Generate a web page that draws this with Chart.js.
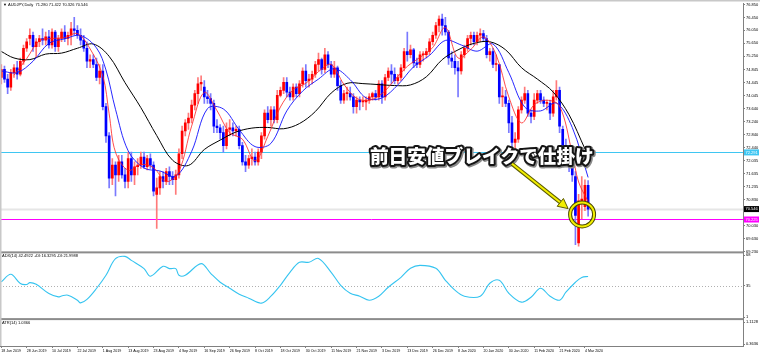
<!DOCTYPE html>
<html>
<head>
<meta charset="utf-8">
<script src="https://cdn.jsdelivr.net/npm/chart.js@4.4.1/dist/chart.umd.min.js"></script>
<style>
html, body { margin: 0; padding: 0; background: #fff; }
#wrap { position: relative; width: 760px; height: 355px; }
</style>
</head>
<body>
<div id="wrap"><canvas id="chart" width="760" height="355"></canvas></div>
<script>
// AUDJPY daily, 18 Jun 2019 .. 5 Mar 2020 (bar index 0..185)
const tickIndex = [0, 8, 16, 24, 32, 40, 48, 56, 64, 72, 80, 88, 96, 104, 112, 120, 128, 136, 144, 152, 160, 168, 176, 184];
const tickLabels = ['18 Jun 2019', '28 Jun 2019', '10 Jul 2019', '22 Jul 2019', '1 Aug 2019', '13 Aug 2019', '23 Aug 2019',
  '4 Sep 2019', '16 Sep 2019', '26 Sep 2019', '8 Oct 2019', '18 Oct 2019', '30 Oct 2019', '11 Nov 2019', '21 Nov 2019',
  '3 Dec 2019', '13 Dec 2019', '26 Dec 2019', '8 Jan 2020', '20 Jan 2020', '30 Jan 2020', '11 Feb 2020', '21 Feb 2020', '4 Mar 2020'];

const opens = [
  74.60,74.85,74.55,74.30,74.75,74.90,74.70,75.10,75.50,75.80,
  75.90,75.55,75.70,75.80,75.75,75.85,75.60,76.00,75.55,75.80,
  76.00,75.80,75.90,76.10,76.05,75.90,75.75,75.50,75.10,75.15,
  75.00,74.60,74.80,73.70,72.80,71.50,71.90,71.60,72.00,71.60,
  71.40,72.10,71.60,71.85,71.90,72.15,71.85,72.10,71.90,71.00,
  71.20,71.55,71.40,71.70,71.55,71.45,71.60,72.25,72.95,73.20,
  73.35,73.75,74.10,74.40,74.30,74.00,73.95,73.80,73.10,73.05,
  72.90,72.50,73.00,73.05,72.95,73.00,72.50,72.00,71.90,72.10,
  72.15,72.00,72.30,72.80,73.50,73.30,73.60,73.30,74.05,74.20,
  74.45,74.15,74.00,74.30,74.10,74.40,74.80,74.50,74.55,74.70,
  75.00,75.15,74.85,75.30,75.00,74.70,74.90,74.35,73.90,74.10,
  74.10,74.00,73.70,73.90,73.85,73.85,73.90,74.00,74.10,74.00,
  74.40,74.00,74.60,74.80,74.70,74.50,74.60,74.90,75.40,75.30,
  75.45,75.05,75.00,75.30,75.30,75.40,75.70,75.90,76.20,76.40,
  76.20,76.00,75.20,75.10,74.90,74.80,75.30,75.50,75.80,75.90,
  75.70,75.90,75.95,75.80,75.30,75.40,75.00,75.00,74.00,74.00,
  73.80,73.20,72.60,72.70,73.60,73.90,74.10,73.50,73.40,73.90,
  74.10,73.90,73.80,73.80,73.50,74.00,74.20,73.00,72.50,72.20,
  71.90,71.55,69.50,70.75,70.62,71.28];
const highs = [
  75.00,74.95,74.70,74.85,75.00,75.10,75.20,75.60,75.80,76.10,
  76.00,75.80,75.90,76.10,76.00,76.05,76.10,76.05,75.90,76.10,
  76.20,76.00,76.30,76.45,76.20,76.10,75.90,75.70,75.30,75.30,
  75.20,75.00,75.00,73.80,72.90,72.10,72.00,72.20,72.20,71.80,
  72.30,72.30,72.00,72.10,72.30,72.30,72.20,72.25,72.00,71.50,
  71.70,71.70,71.80,71.85,71.70,71.75,72.40,73.10,73.30,73.50,
  73.90,74.20,74.60,74.65,74.50,74.20,74.10,73.90,73.30,73.15,
  73.10,73.20,73.30,73.20,73.10,73.10,72.60,72.20,72.20,72.40,
  72.30,72.40,72.90,73.60,73.70,73.70,73.70,74.20,74.30,74.60,
  74.60,74.30,74.40,74.40,74.50,74.90,75.00,74.70,74.80,75.10,
  75.35,75.20,75.50,75.40,75.10,75.10,74.95,74.50,74.20,74.30,
  74.30,74.10,74.00,74.00,74.00,74.00,74.10,74.15,74.20,74.50,
  74.50,74.70,74.90,75.00,74.90,74.70,75.00,75.50,76.00,75.60,
  75.50,75.20,75.40,75.40,75.50,75.80,76.00,76.30,76.50,76.55,
  76.45,76.05,75.40,75.30,75.10,75.40,75.60,75.90,76.00,76.00,
  76.00,76.10,76.05,75.90,75.50,75.50,75.30,75.00,74.30,74.20,
  73.90,73.40,72.90,73.70,74.00,74.30,74.20,73.60,74.10,74.20,
  74.20,74.00,73.90,73.90,74.20,74.50,74.30,73.10,72.70,72.50,
  72.20,71.70,71.00,71.55,71.45,71.422];
const lows = [
  74.40,74.45,74.10,74.20,74.60,74.55,74.65,75.00,75.40,75.60,
  75.40,75.20,75.55,75.60,75.60,75.50,75.50,75.40,75.40,75.70,
  75.70,75.60,75.60,75.90,75.80,75.60,75.40,74.90,74.90,74.90,
  74.50,74.40,73.60,72.60,71.20,71.30,70.95,71.40,71.50,71.20,
  71.20,71.40,71.30,71.60,71.80,71.80,71.75,71.80,70.95,69.95,
  71.00,71.20,71.30,71.30,71.30,71.00,71.50,72.10,72.80,73.00,
  73.20,73.60,73.80,74.20,73.80,73.80,73.60,72.90,72.90,72.70,
  72.30,72.40,72.80,72.80,72.80,72.40,71.90,71.70,71.80,71.90,
  71.90,71.90,72.10,72.70,73.20,73.10,73.20,73.20,74.00,74.10,
  74.00,73.90,73.90,74.00,74.00,74.30,74.30,74.30,74.40,74.60,
  74.80,74.70,74.75,74.90,74.60,74.60,74.20,73.80,73.80,73.90,
  73.90,73.50,73.50,73.60,73.70,73.60,73.80,73.90,73.90,73.90,
  73.80,73.90,74.50,74.40,74.40,74.40,74.50,74.80,75.10,75.20,
  74.90,74.90,74.90,75.10,75.20,75.30,75.60,75.80,76.00,75.90,
  75.90,75.00,74.90,74.70,74.00,74.70,75.20,75.40,75.60,75.60,
  75.60,75.70,75.70,75.20,75.10,74.90,74.80,73.80,73.70,73.70,
  72.90,72.30,72.40,72.60,73.50,73.80,73.40,73.20,73.30,73.80,
  73.80,73.70,73.60,73.30,73.40,73.90,72.90,72.30,72.00,71.70,
  71.40,69.45,69.40,70.25,70.50,70.326];
const closes = [
  74.85,74.55,74.30,74.75,74.90,74.70,75.10,75.50,75.70,75.90,
  75.55,75.70,75.80,75.75,75.85,75.60,76.00,75.55,75.80,76.00,
  75.80,75.90,76.10,76.05,75.90,75.75,75.50,75.10,75.15,75.00,
  74.60,74.80,73.70,72.80,71.50,71.90,71.60,72.00,71.60,71.40,
  72.10,71.60,71.85,71.90,72.15,71.85,72.10,71.90,71.10,71.20,
  71.55,71.40,71.70,71.55,71.45,71.60,72.25,72.95,73.20,73.35,
  73.75,74.10,74.40,74.45,74.00,73.95,73.80,73.10,73.05,72.90,
  72.50,73.00,73.05,72.95,73.00,72.50,72.00,71.90,72.10,72.15,
  72.00,72.30,72.80,73.50,73.30,73.60,73.30,74.05,74.20,74.45,
  74.15,74.00,74.30,74.10,74.40,74.80,74.50,74.55,74.70,75.00,
  75.15,74.85,75.30,75.00,74.70,74.90,74.35,73.90,74.10,74.10,
  74.00,73.70,73.90,73.85,73.85,73.90,74.00,74.10,74.00,74.40,
  74.00,74.60,74.80,74.70,74.50,74.60,74.90,75.40,75.30,75.45,
  75.05,75.00,75.30,75.30,75.40,75.70,75.90,76.20,76.40,76.20,
  76.00,75.20,75.10,74.90,74.80,75.30,75.50,75.80,75.90,75.70,
  75.90,75.95,75.80,75.30,75.40,75.00,75.00,74.00,74.00,73.80,
  73.20,72.60,72.70,73.60,73.90,74.10,73.50,73.40,73.90,74.10,
  73.90,73.80,73.80,73.50,74.00,74.20,73.10,72.50,72.20,71.90,
  71.60,70.35,70.80,70.85,71.28,70.546];

// moving averages (bar index, price)
const maRedIdx = [4,8,12,16,20,24,28,32,34,36,40,44,48,52,56,60,64,68,72,76,80,84,88,92,96,100,104,108,112,116,120,124,128,132,136,140,144,148,152,156,160,164,168,172,176,180,182,185];
const maRed = [74.67,75.18,75.73,75.80,75.83,75.95,75.48,74.65,73.48,72.30,71.74,71.92,71.82,71.39,71.71,73.10,74.14,73.58,72.90,72.70,72.03,72.78,73.69,74.22,74.42,74.78,75.00,74.39,73.96,73.90,74.10,74.52,74.94,75.22,75.52,76.14,75.20,75.46,75.85,75.30,74.00,73.20,73.76,73.90,73.72,72.26,71.38,70.78];
const maBlueIdx = [0,5,10,15,20,25,30,33,36,40,45,50,55,60,65,70,75,80,85,90,95,100,105,110,115,120,125,130,135,140,145,150,155,160,165,170,175,180,185];
const maBlue = [74.80,74.75,75.10,75.65,75.79,75.89,75.51,74.83,73.62,72.34,71.81,71.72,71.56,72.32,73.64,73.63,72.99,72.47,72.57,73.57,74.18,74.55,74.87,74.53,73.97,73.97,74.37,74.93,75.28,75.74,75.60,75.41,75.63,74.75,73.69,73.57,73.81,73.06,71.52];
const maBlackIdx = [0,4,9,14,19,24,29,34,39,44,49,54,59,64,69,74,79,84,89,94,99,104,109,114,119,124,129,134,139,144,149,154,159,164,169,174,179,184];
const maBlack = [75.40,75.20,75.15,75.32,75.35,75.50,75.63,75.25,74.44,73.67,72.81,72.05,71.89,72.38,72.67,72.92,73.04,73.06,73.02,73.18,73.55,74.12,74.42,74.41,74.38,74.35,74.37,74.62,75.15,75.45,75.65,75.70,75.45,74.90,74.55,74.15,73.45,72.40];

// ADX(14) main line
const adxIdx = [0,3,6,8,9,11,15,18,19,21,24,25,27,30,33,36,39,41,45,47,51,53,55,56,58,63,66,69,72,75,78,82,85,88,91,94,97,100,104,107,110,113,116,119,122,126,129,132,137,140,143,146,151,154,157,160,164,167,170,173,176,178,181,183,185];
const adx = [39.1,47.4,37.4,36.3,38.4,36.6,26.6,23.0,24.0,24.8,19.4,16.5,20.2,32.0,46.3,64.2,66.7,62.4,53.5,45.2,56.0,53.5,53.5,46.3,46.3,58.9,48.4,38.8,32.3,25.9,21.6,16.2,23.7,35.5,49.5,60.3,60.3,64.5,49.5,35.5,26.9,23.7,19.4,23.7,33.4,44.1,53.8,57.0,53.8,40.9,30.2,23.7,23.7,37.7,40.9,26.9,17.3,22.6,32.3,23.7,19.4,28.0,38.8,44.0,45.0];

// axis labels
const priceTicks = [76.850, 76.450, 76.050, 75.650, 75.250, 74.845, 74.445, 74.045, 73.640, 73.240, 72.840, 72.440, 72.035, 71.635, 71.235, 70.830, 70.030, 69.630, 69.230];
const adxTicks = [68, 35, 1];
const adxLevel = 35;
const atrTicks = [1.1128, 0.3636];

// horizontal lines on the price window
const cyanLevel = 72.291;
const magentaLevel = 70.225;
const bidLevel = 70.546;

const titleText = 'AUDJPY,Daily  71.280 71.422 70.326 70.546';
const adxText = 'ADX(14) 42.4922 +DI:16.3295 -DI:21.9988';
const atrText = 'ATR(14) 1.0366';
const noteText = '前日安値ブレイクで仕掛け';

// build candle pieces
const bodyUp = [], bodyDn = [], wickUp = [], wickDn = [];
for (let i = 0; i < closes.length; i++) {
  const up = closes[i] >= opens[i];
  (up ? wickUp : wickDn).push({x: i, y: [lows[i], highs[i]]});
  (up ? bodyUp : bodyDn).push({x: i, y: [Math.min(opens[i], closes[i]), Math.max(opens[i], closes[i])]});
}
const pts = (idx, vals) => idx.map((x, k) => ({x: x, y: vals[k]}));

const FONT = 'Liberation Sans';

const mt4 = {
  id: 'mt4',
  beforeDatasetsDraw(chart) {
    const ctx = chart.ctx, y = chart.scales.y, ya = chart.scales.yAdx;
    const L = chart.chartArea.left, R = chart.chartArea.right;
    ctx.save();
    const hline = (v, color, w) => {
      const py = Math.round(y.getPixelForValue(v)) + 0.5;
      ctx.strokeStyle = color; ctx.lineWidth = w;
      ctx.beginPath(); ctx.moveTo(L, py); ctx.lineTo(R, py); ctx.stroke();
    };
    hline(bidLevel, '#e6e6e6', 2);
    hline(cyanLevel, '#3fc6f2', 1);
    hline(magentaLevel, '#ff00ff', 1);
    // ADX level
    ctx.setLineDash([1, 2]);
    const ly = Math.round(ya.getPixelForValue(adxLevel)) + 0.5;
    ctx.strokeStyle = '#b0b0b0'; ctx.lineWidth = 1;
    ctx.beginPath(); ctx.moveTo(L, ly); ctx.lineTo(R, ly); ctx.stroke();
    ctx.restore();
  },
  afterDraw(chart) {
    const ctx = chart.ctx, x = chart.scales.x, y = chart.scales.y;
    const ya = chart.scales.yAdx, yt = chart.scales.yAtr;
    const R = chart.chartArea.right;
    ctx.save();
    // window separators
    ctx.fillStyle = '#8c8c8c';
    ctx.fillRect(0, ya.top - 1, R, 2);
    ctx.fillRect(0, yt.top - 1, R, 2);
    // frame
    ctx.fillStyle = '#c8c8c8';
    ctx.fillRect(0, 0, 760, 1.5);
    ctx.fillRect(0, 0, 1.5, chart.chartArea.bottom);

    // window captions
    ctx.fillStyle = '#000';
    ctx.textBaseline = 'middle';
    ctx.textAlign = 'left';
    ctx.font = '4px "' + FONT + '"';
    ctx.fillText('\u25BC', 3, 5);
    ctx.fillText(titleText, 8, 5);
    ctx.fillText(adxText, 2, ya.top + 4);
    ctx.fillText(atrText, 2, yt.top + 4);

    // price labels on the axis
    const tag = (v, bg, fg, txt) => {
      const py = y.getPixelForValue(v);
      ctx.fillStyle = bg;
      ctx.fillRect(R + 1, py - 3, 15, 6);
      ctx.fillStyle = fg;
      ctx.fillText(txt, R + 2.5, py + 0.3);
    };
    tag(cyanLevel, '#3fc6f2', '#fff', cyanLevel.toFixed(3));
    tag(bidLevel, '#000', '#fff', bidLevel.toFixed(3));
    tag(magentaLevel, '#ff00ff', '#fff', magentaLevel.toFixed(3));

    // annotation text
    const tx = x.getPixelForValue(116.2), ty = y.getPixelForValue(72.19);
    ctx.font = '900 19px "Noto Sans CJK JP"';
    const w = ctx.measureText(noteText).width;
    const fs = 19 * 224 / w;
    ctx.font = '900 ' + fs.toFixed(2) + 'px "Noto Sans CJK JP"';
    ctx.lineJoin = 'round';
    ctx.lineWidth = 5;
    ctx.strokeStyle = '#8a8a8a';
    ctx.strokeText(noteText, tx + 1, ty + 1);
    ctx.lineWidth = 4;
    ctx.strokeStyle = '#141414';
    ctx.strokeText(noteText, tx, ty);
    ctx.fillStyle = '#fff';
    ctx.fillText(noteText, tx, ty);

    // arrow
    const ax0 = x.getPixelForValue(161.0), ay0 = y.getPixelForValue(71.94);
    const ax1 = x.getPixelForValue(178.7), ay1 = y.getPixelForValue(70.56);
    const dx = ax1 - ax0, dy = ay1 - ay0, len = Math.hypot(dx, dy);
    const ux = dx / len, uy = dy / len, px = -uy, py = ux;
    const hl = 10, hw = 5;
    const bx = ax1 - ux * hl, by = ay1 - uy * hl;
    ctx.lineCap = 'butt';
    ctx.strokeStyle = '#5a5a00'; ctx.lineWidth = 4;
    ctx.beginPath(); ctx.moveTo(ax0, ay0); ctx.lineTo(bx, by); ctx.stroke();
    ctx.strokeStyle = '#f2ee00'; ctx.lineWidth = 2;
    ctx.beginPath(); ctx.moveTo(ax0, ay0); ctx.lineTo(bx + ux, by + uy); ctx.stroke();
    ctx.beginPath();
    ctx.moveTo(ax1, ay1);
    ctx.lineTo(bx + px * hw, by + py * hw);
    ctx.lineTo(bx - px * hw, by - py * hw);
    ctx.closePath();
    ctx.fillStyle = '#f2ee00'; ctx.fill();
    ctx.strokeStyle = '#5a5a00'; ctx.lineWidth = 1; ctx.stroke();

    // ring
    const cx = x.getPixelForValue(183.1), cy = y.getPixelForValue(70.38);
    ctx.beginPath(); ctx.arc(cx, cy, 12, 0, Math.PI * 2);
    ctx.strokeStyle = '#4a4a00'; ctx.lineWidth = 4; ctx.stroke();
    ctx.beginPath(); ctx.arc(cx, cy, 12, 0, Math.PI * 2);
    ctx.strokeStyle = '#f2ee00'; ctx.lineWidth = 2; ctx.stroke();
    ctx.restore();
  }
};

const tickFont = {size: 4, family: FONT};
const yAxis = (weight, min, max, ticks, digits) => ({
  type: 'linear',
  position: 'right',
  stack: 'win',
  stackWeight: weight,
  min: min,
  max: max,
  offset: false,
  afterFit: s => { s.width = 17; },
  afterBuildTicks: s => { s.ticks = ticks.map(v => ({value: v})); },
  ticks: {
    autoSkip: false,
    font: tickFont,
    color: '#000',
    padding: 1,
    callback: v => v.toFixed(digits)
  },
  grid: {drawOnChartArea: false, tickLength: 2, color: '#808080'},
  border: {color: '#808080'}
});

new Chart(document.getElementById('chart'), {
  type: 'bar',
  data: {
    datasets: [
      {type: 'line', label: 'MA red', data: pts(maRedIdx, maRed), borderColor: '#ff2020', borderWidth: 0.8, pointRadius: 0, tension: 0.35, order: 0},
      {type: 'line', label: 'MA blue', data: pts(maBlueIdx, maBlue), borderColor: '#1010ff', borderWidth: 0.9, pointRadius: 0, tension: 0.35, order: 0},
      {type: 'line', label: 'MA black', data: pts(maBlackIdx, maBlack), borderColor: '#000000', borderWidth: 1, pointRadius: 0, tension: 0.35, order: 0},
      {type: 'line', label: 'ADX', yAxisID: 'yAdx', data: pts(adxIdx, adx), borderColor: '#35c4f0', borderWidth: 1.1, pointRadius: 0, tension: 0.35, order: 0},
      {label: 'body up', data: bodyUp, backgroundColor: '#ff0000', barThickness: 2, minBarLength: 1, grouped: false, order: 1},
      {label: 'body down', data: bodyDn, backgroundColor: '#0000ff', barThickness: 2, minBarLength: 1, grouped: false, order: 1},
      {label: 'wick up', data: wickUp, backgroundColor: '#ff7a7a', barThickness: 1, grouped: false, order: 2},
      {label: 'wick down', data: wickDn, backgroundColor: '#7a7aff', barThickness: 1, grouped: false, order: 2}
    ]
  },
  options: {
    responsive: false,
    animation: false,
    devicePixelRatio: 1,
    events: [],
    layout: {padding: {top: 2, left: 0, right: 0, bottom: 0}},
    plugins: {legend: {display: false}, tooltip: {enabled: false}},
    scales: {
      x: {
        type: 'linear',
        position: 'bottom',
        min: -0.41,
        max: 233.83,
        offset: false,
        afterFit: s => { s.height = 9; },
        afterBuildTicks: s => { s.ticks = tickIndex.map(v => ({value: v})); },
        ticks: {
          autoSkip: false,
          maxRotation: 0,
          align: 'start',
          padding: 1,
          font: {size: 3.6, family: FONT},
          color: '#000',
          callback: (v, i) => tickLabels[i]
        },
        grid: {drawOnChartArea: false, offset: false, tickLength: 2, color: '#808080'},
        border: {color: '#808080'}
      },
      y: yAxis(250, 69.212, 76.881, priceTicks, 3),
      yAdx: yAxis(67, -1, 71, adxTicks, 0),
      yAtr: yAxis(27, 0.2955, 1.215, atrTicks, 4)
    }
  },
  plugins: [mt4]
});
</script>
</body>
</html>
